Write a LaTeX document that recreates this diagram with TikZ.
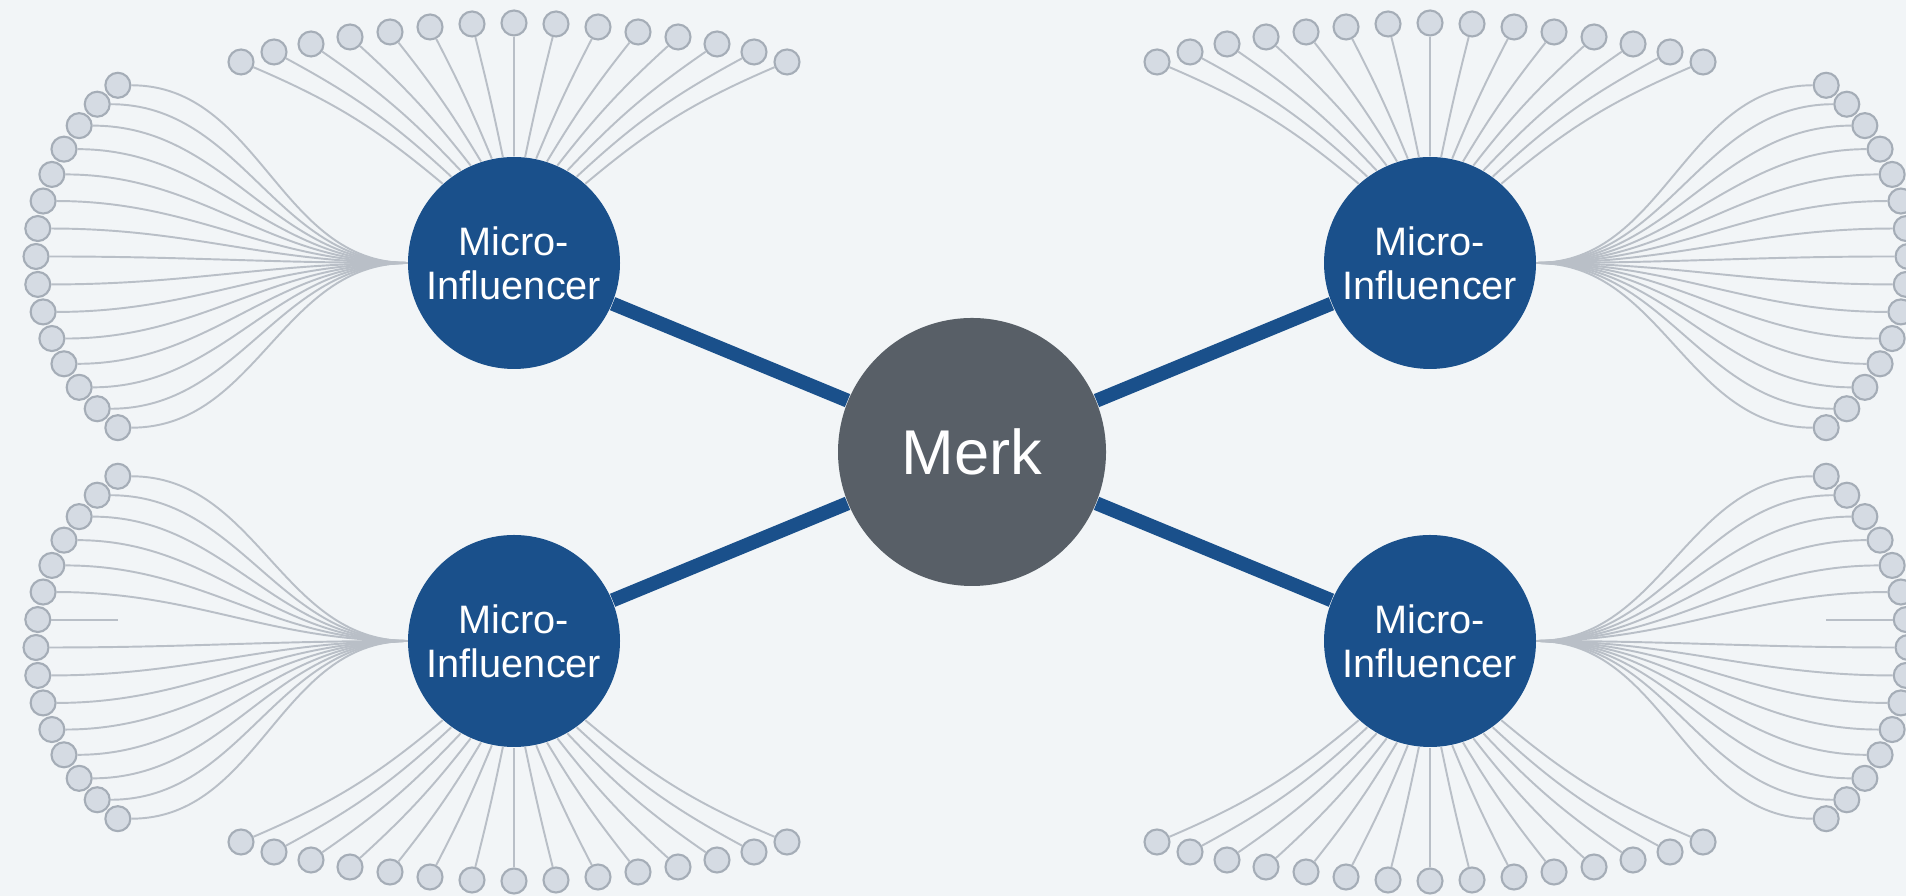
\documentclass[tikz,border=0pt]{standalone}
\usepackage{fontspec}
\setsansfont{Liberation Sans}
\usepackage{tikz}
\usetikzlibrary{calc}
\definecolor{mkBg}   {RGB}{242,245,247}
\definecolor{mkBlue} {RGB}{ 26, 80,139}
\definecolor{mkGrey} {RGB}{ 88, 95,103}
\definecolor{mkLeaf} {RGB}{213,219,227}
\definecolor{mkLeafD}{RGB}{165,173,183}
\definecolor{mkTwig} {RGB}{185,191,199}

% side fan of one hub: #1 hub, #2 x sign, #3 y sign, leaf with a broken twig (99 = none)
\newcommand{\sidefan}[4]{%
  \foreach \k [count=\i] in {-7,...,7}{
    \pgfmathtruncatemacro\outang{90-90*#2}
    \pgfmathtruncatemacro\inang{90+90*#2}
    \node[leaf] (#1s\i) at ($(#1)+({#2*(-2.58-2.2*cos(7.3*\k))},{#3*(0.065-2.2*sin(7.3*\k))})$) {};
    \ifnum\k=#4
      \coordinate (#1cut) at ($(#1s\i)+({#2*0.8},0)$);
      \draw[twig] (#1s\i) -- (#1cut);
    \else
      \draw[twig] (#1s\i) to[out=\outang,in=\inang] (#1.\inang);
    \fi
  }}

% top (or bottom) fan of one hub: #1 hub, #2 x sign, #3 y sign
\newcommand{\topfan}[3]{%
  \foreach \dx/\dy [count=\i] in {-2.73/2.01,-2.40/2.11,-2.03/2.19,-1.64/2.26,-1.24/2.31,
      -0.84/2.36,-0.42/2.39,0/2.40,0.42/2.39,0.84/2.36,1.24/2.31,1.64/2.26,2.03/2.19,2.40/2.11,2.73/2.01}{
    \pgfmathtruncatemacro\ang{#3*(90+#2*6*(8-\i))}
    \pgfmathsetmacro\bend{#2*#3*1.2*(8-\i)}
    \node[leaf] (#1t\i) at ($(#1)+({#2*\dx},{#3*\dy})$) {};
    \draw[twig] (#1t\i) to[bend left=\bend] (#1.\ang);
  }}

\begin{document}
\begin{tikzpicture}[
  leaf/.style={circle,draw=mkLeafD,fill=mkLeaf,line width=0.6pt,
               minimum size=0.25cm,inner sep=0pt},
  twig/.style={draw=mkTwig,line width=0.55pt},
  mi/.style={circle,fill=mkBlue,text=white,minimum size=2.12cm,inner sep=0pt,
             align=center,font=\sffamily\fontsize{11.3}{12.6}\selectfont},
  hub/.style={circle,fill=mkGrey,text=white,minimum size=2.68cm,inner sep=0pt,
              font=\sffamily\fontsize{18}{20}\selectfont},
  spoke/.style={draw=mkBlue,line width=0.14cm}
]
\useasboundingbox (0,0) rectangle (19.06,8.96);
\clip (0,0) rectangle (19.06,8.96);
\fill[mkBg] (0,0) rectangle (19.06,8.96);

\node[hub] (merk) at (9.72,4.44) {Merk};
\node[mi]  (TL)   at (5.14,6.33) {Micro-\\Influencer};
\node[mi]  (TR)   at (14.30,6.33) {Micro-\\Influencer};
\node[mi]  (BL)   at (5.14,2.55) {Micro-\\Influencer};
\node[mi]  (BR)   at (14.30,2.55) {Micro-\\Influencer};

\draw[spoke] (TL) -- (merk);
\draw[spoke] (TR) -- (merk);
\draw[spoke] (BL) -- (merk);
\draw[spoke] (BR) -- (merk);

\sidefan{TL}{1}{1}{99}
\sidefan{TR}{-1}{1}{99}
\sidefan{BL}{1}{-1}{1}
\sidefan{BR}{-1}{-1}{1}

\topfan{TL}{1}{1}
\topfan{TR}{-1}{1}
\topfan{BL}{1}{-1}
\topfan{BR}{-1}{-1}
\end{tikzpicture}
\end{document}
